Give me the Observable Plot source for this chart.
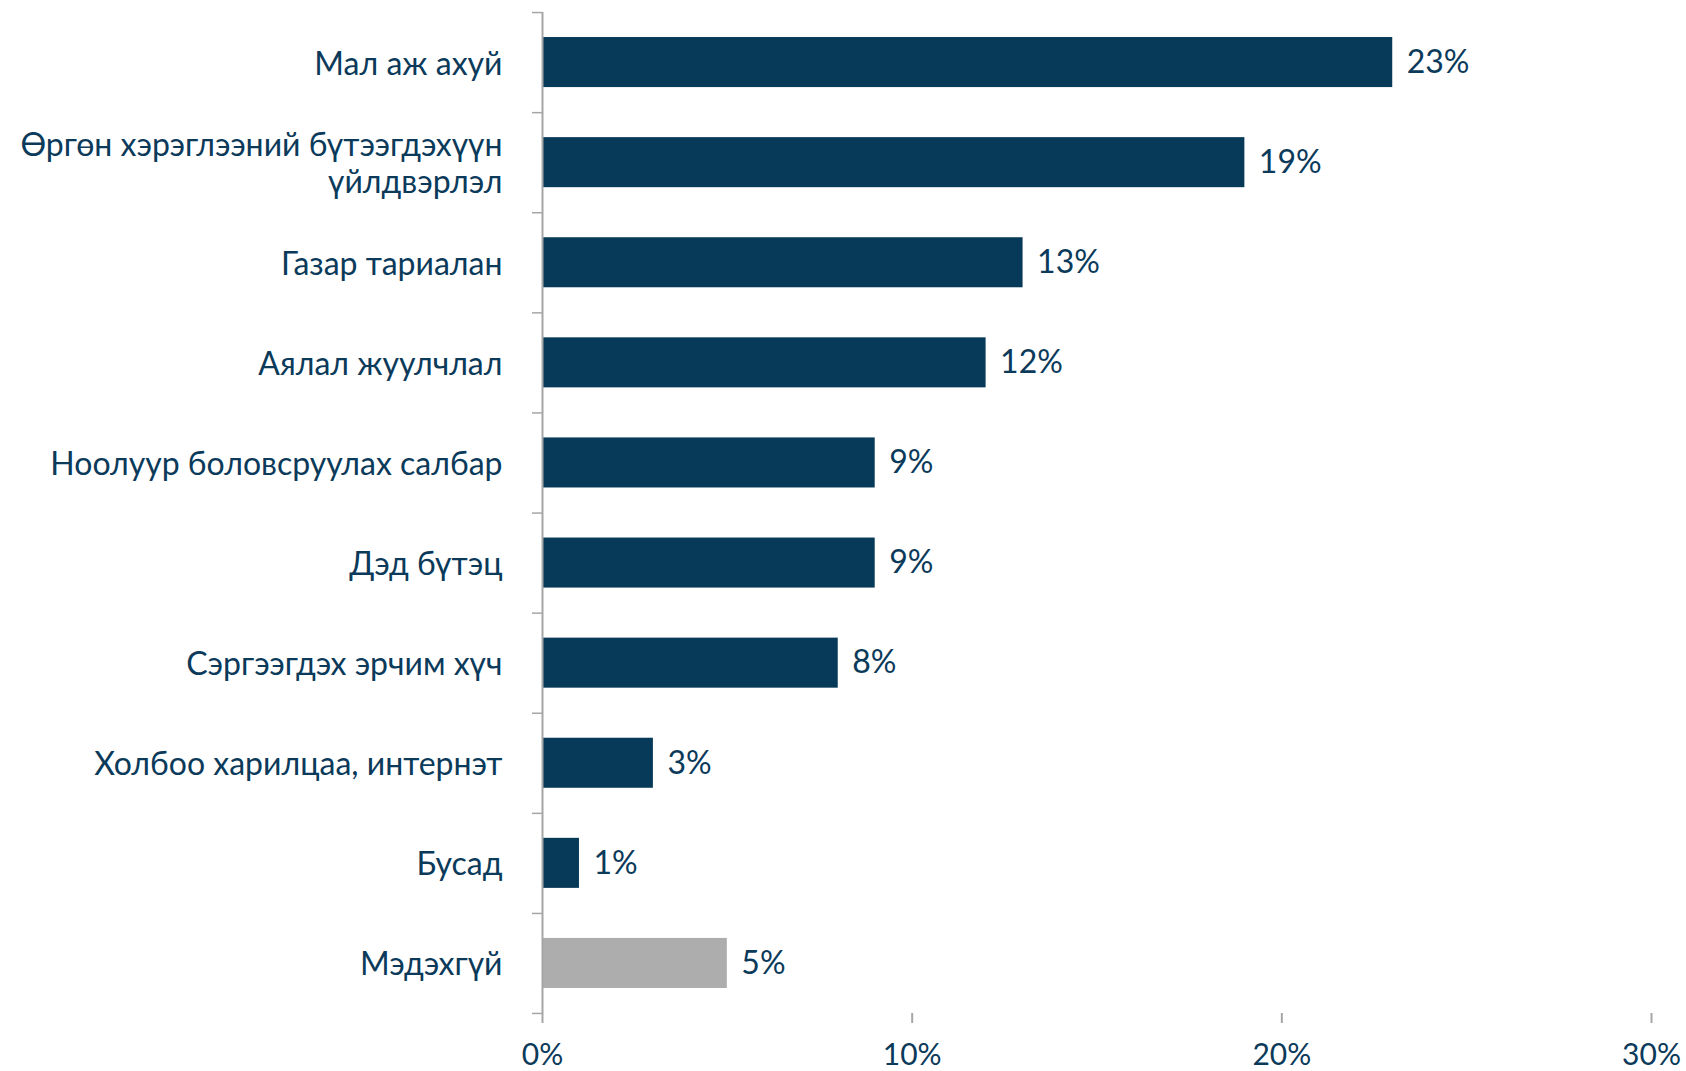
<!DOCTYPE html>
<html>
<head>
<meta charset="utf-8">
<script src="https://cdn.jsdelivr.net/npm/d3@7"></script>
<script src="https://cdn.jsdelivr.net/npm/@observablehq/plot@0.6"></script>
<style>
  html, body { margin: 0; padding: 0; background: #fff; }
  #chart svg { display: block; }
</style>
</head>
<body>
<div id="chart"></div>
<script>
const categories = [
  "Мал аж ахуй",
  "Өргөн хэрэглээний бүтээгдэхүүн\nүйлдвэрлэл",
  "Газар тариалан",
  "Аялал жуулчлал",
  "Ноолуур боловсруулах салбар",
  "Дэд бүтэц",
  "Сэргээгдэх эрчим хүч",
  "Холбоо харилцаа, интернэт",
  "Бусад",
  "Мэдэхгүй"
];
const values = [23, 19, 13, 12, 9, 9, 8, 3, 1, 5];
const groups = ["known", "known", "known", "known", "known", "known", "known", "known", "known", "unknown"];
const xTicks = [0, 10, 20, 30];

const data = categories.map((c, i) => ({category: c, value: values[i], group: groups[i]}));
const last = [data[data.length - 1]];

const textColor = "#0b3a5a";
const axisColor = "#a6a6a6";
const font = "Lato, 'Noto Sans', sans-serif";

const chart = Plot.plot({
  width: 1686,
  height: 1071,
  marginTop: 12,
  marginBottom: 58,
  marginLeft: 542,
  marginRight: 35,
  style: {fontFamily: font, fontSize: "32px", color: textColor, background: "#fff"},
  x: {domain: [0, 30]},
  y: {domain: categories, paddingInner: 0.5, paddingOuter: 0.25, round: false},
  color: {domain: ["known", "unknown"], range: ["#073a58", "#adadae"]},
  marks: [
    Plot.barX(data, {y: "category", x: "value", fill: "group"}),
    Plot.text(data, {y: "category", x: "value", text: d => d.value + "%", textAnchor: "start", dx: 14, fill: textColor, fontSize: 32}),
    Plot.ruleX([0], {stroke: axisColor, strokeWidth: 2}),
    Plot.ruleY(data, {y: "category", x1: 0, x2: 0, insetLeft: -10, dy: -50, stroke: axisColor, strokeWidth: 1.5}),
    Plot.ruleY(last, {y: "category", x1: 0, x2: 0, insetLeft: -10, dy: 50, stroke: axisColor, strokeWidth: 1.5}),
    Plot.axisY({tickSize: 0, tickPadding: 40, fontSize: 32, fill: textColor, lineHeight: 1.17, label: null}),
    Plot.axisX({ticks: xTicks, tickFormat: d => d + "%", tickSize: 10, tickPadding: 20, line: true, stroke: axisColor, strokeWidth: 2, fill: textColor, fontSize: 30, label: null})
  ]
});
document.getElementById("chart").appendChild(chart);
</script>
</body>
</html>
